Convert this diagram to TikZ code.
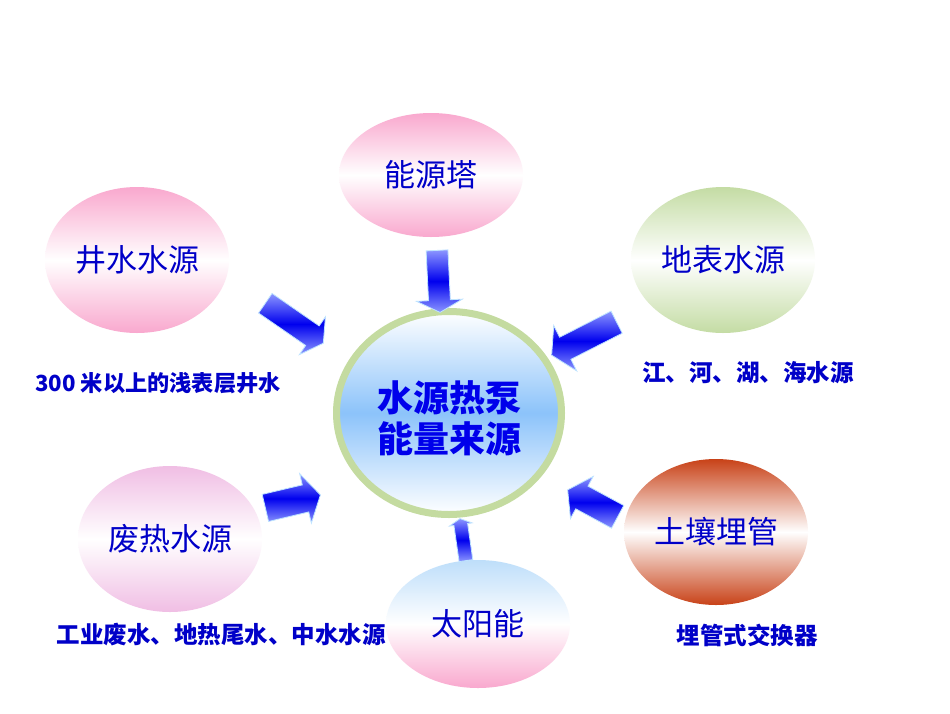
\documentclass[tikz,border=0pt]{standalone}
\usepackage{fontspec}
\newfontfamily\cjk{Noto Sans CJK SC}
\usetikzlibrary{shapes.arrows,shapes.geometric,calc}
\definecolor{txtblue}{RGB}{0,0,200}
\definecolor{ctrblue}{RGB}{0,0,235}
\definecolor{pk}{RGB}{249,168,206}
\definecolor{pkl}{RGB}{240,190,228}
\definecolor{grn}{RGB}{196,220,164}
\definecolor{rust}{RGB}{200,66,24}
\definecolor{skyb}{RGB}{190,222,250}
\definecolor{ring}{RGB}{196,219,160}
\definecolor{cblue}{RGB}{140,195,250}
\definecolor{arrl}{RGB}{140,150,255}
\definecolor{arrm}{RGB}{0,0,238}
\definecolor{arrg}{RGB}{190,228,255}
\tikzset{
  srcell/.style={ellipse, inner sep=0pt, minimum width=184pt, minimum height=146pt,
    font=\cjk\fontsize{31}{36}\selectfont, text=txtblue},
  capt/.style={font=\cjk\bfseries\fontsize{23.5}{27}\selectfont, text=txtblue, inner sep=0pt},
  blockarr/.style={single arrow, inner xsep=0pt, single arrow head indent=0pt,
    top color=arrl, bottom color=arrl, middle color=arrm, draw=arrg, line width=0.8pt}
}
% #1 tail, #2 tip, #3 head width, #4 shaft width, #5 tip angle, #6 name
\newcommand{\blockarrow}[6]{%
  \path let \p1=(#1), \p2=(#2), \n1={veclen(\x2-\x1,\y2-\y1)}, \n2={atan2(\y2-\y1,\x2-\x1)} in
    node[blockarr, anchor=tail, rotate=\n2, minimum height=\n1, inner ysep={(#4)/2},
      single arrow head extend={(#3-#4)/2}, single arrow tip angle=#5] (#6) at (#1) {};}
\begin{document}
\begin{tikzpicture}[x=1pt,y=-1pt]
\useasboundingbox (0,0) rectangle (950,713);
\fill[white] (0,0) rectangle (950,713);

% centre
\node[ellipse, minimum width=225pt, minimum height=203pt, draw=ring, line width=7pt,
  top color=white, bottom color=white, middle color=cblue] (ctr) at (449,413) {};
\node[font=\cjk\bfseries\fontsize{36}{41}\selectfont, text=ctrblue, align=center, inner sep=0pt]
  (ctrtext) at (449,418) {水源热泵\\能量来源};

% source ellipses
\node[srcell, minimum height=124pt, top color=pk, bottom color=pk, middle color=white] (nyt) at (431,175) {能源塔};
\node[srcell, top color=pk, bottom color=pk, middle color=white] (jss) at (137,260) {井水水源};
\node[srcell, top color=grn, bottom color=grn, middle color=white] (dbs) at (723,260) {地表水源};
\node[srcell, top color=pkl, bottom color=pkl, middle color=white] (frs) at (170,539) {废热水源};
\node[srcell, top color=rust, bottom color=rust, middle color=white] (trm) at (716,532) {土壤埋管};

% captions
\node[capt, font=\cjk\bfseries\fontsize{22.2}{26}\selectfont] (cjss) at (158,383) {300 米以上的浅表层井水};
\node[capt] (cdbs) at (748,373) {江、河、湖、海水源};
\node[capt] (cfrs) at (221,635) {工业废水、地热尾水、中水水源};
\node[capt] (ctrm) at (747,635) {埋管式交换器};

\node[srcell, minimum height=128pt, top color=skyb, bottom color=pk, middle color=white] (tyn) at (478,624) {太阳能};

% arrows
\coordinate (a1t) at (437,250); \coordinate (a1h) at (440,312);
\coordinate (a2t) at (265,303); \coordinate (a2h) at (323,343);
\coordinate (a3t) at (617,322); \coordinate (a3h) at (552,355);
\coordinate (a4t) at (265,508); \coordinate (a4h) at (320,495);
\coordinate (a5t) at (618,517); \coordinate (a5h) at (568,490);
\coordinate (a6t) at (466,561); \coordinate (a6h) at (460,519);
\blockarrow{a1t}{a1h}{45pt}{21pt}{124}{arr1}
\blockarrow{a2t}{a2h}{45pt}{23pt}{120}{arr2}
\blockarrow{a3t}{a3h}{50pt}{24pt}{118}{arr3}
\blockarrow{a4t}{a4h}{50pt}{27pt}{118}{arr4}
\blockarrow{a5t}{a5h}{47pt}{25pt}{112}{arr5}
\blockarrow{a6t}{a6h}{22pt}{13pt}{125}{arr6}
\end{tikzpicture}
\end{document}
